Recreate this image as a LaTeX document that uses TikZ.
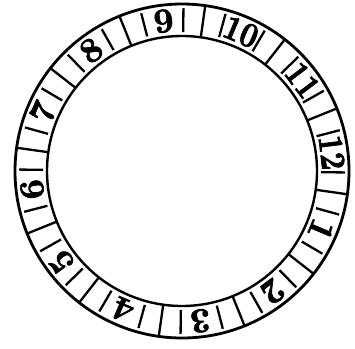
\documentclass[tikz,border=0pt]{standalone}
\usepackage{fontspec}
\setmainfont{Latin Modern Roman}
\newfontfamily\dialfam{lmroman10-bold.otf}[FakeBold=1.8]
\usetikzlibrary{calc}
\newcommand\dialfont{\fontsize{35pt}{35pt}\selectfont\dialfam}
\begin{document}
\begin{tikzpicture}[x=1pt,y=1pt,
  fullline/.style={line width=2.3pt},
  shortline/.style={line width=2.3pt},
  numeral/.style={inner sep=0pt, font=\dialfont}]
\useasboundingbox (0,0) rectangle (355,-348);
\coordinate (c) at (182,-171);
\draw[line width=2.8pt] (c) circle (167);
\draw[line width=2.4pt] (c) circle (135);
\foreach \n/\s in {1/1,2/1,3/1,4/1,5/1,6/1,7/1,8/1,9/1,10/0.86,11/0.86,12/0.86} {
  \pgfmathsetmacro\a{97-30*(\n-9)}
  \pgfmathsetmacro\b{\a+15}
  \pgfmathsetmacro\p{\a+7.5}
  \pgfmathsetmacro\q{\a-7.5}
  \node[numeral, rotate=\a-90, xscale=\s] (n\n) at ([shift={(c)}]\a:151) {\n};
  \draw[fullline] ([shift={(c)}]\b:135) -- ([shift={(c)}]\b:167);
  \draw[shortline] ([shift={(c)}]\p:139) -- ([shift={(c)}]\p:163);
  \draw[shortline] ([shift={(c)}]\q:139) -- ([shift={(c)}]\q:163);
}
\end{tikzpicture}
\end{document}
